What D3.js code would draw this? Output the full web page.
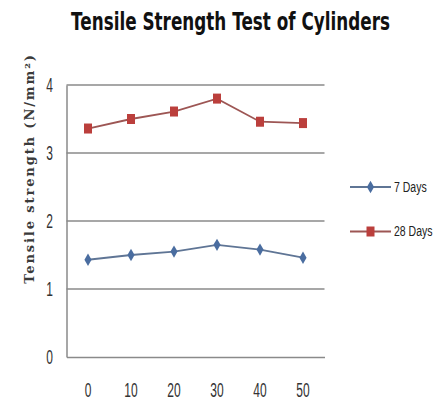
<!DOCTYPE html>
<html>
<head>
<meta charset="utf-8">
<script src="https://cdn.jsdelivr.net/npm/d3@7"></script>
<style>
  html, body { margin: 0; padding: 0; background: #fff; }
  svg { display: block; }
</style>
</head>
<body>
<svg id="chart" width="440" height="405"></svg>
<script>
// Replacement levels (%) and cylinder tensile strengths (N/mm²)
const categories = ["0", "10", "20", "30", "40", "50"];
const days7 = [1.43, 1.50, 1.55, 1.65, 1.58, 1.46];
const days28 = [3.36, 3.50, 3.61, 3.80, 3.46, 3.44];
const yTicks = [0, 1, 2, 3, 4];
const seriesNames = ["7 Days", "28 Days"];

const svg = d3.select("#chart");
const margin = { left: 66.5, right: 115.5, top: 85, bottom: 48 };
const W = 440, H = 405;

const x = d3.scaleBand()
  .domain(categories)
  .range([margin.left, W - margin.right]);

const y = d3.scaleLinear()
  .domain([0, 4])
  .range([H - margin.bottom, margin.top]);

const sans = "'Liberation Sans', Arial, sans-serif";
const squeeze = 0.6;   // horizontal compression of the narrow label face

// Title, condensed to a fixed width around its centre
const title = svg.append("text")
  .attr("x", 0)
  .attr("y", 0)
  .attr("text-anchor", "middle")
  .attr("font-family", "'DejaVu Sans', sans-serif")
  .attr("font-weight", "bold")
  .attr("font-size", 24)
  .attr("fill", "#111")
  .text("Tensile Strength Test of Cylinders");
const titleScale = 319 / title.node().getComputedTextLength();
title.attr("transform", `translate(230.5,30) scale(${titleScale},1)`);

// Horizontal gridlines
svg.append("g")
  .selectAll("line")
  .data(yTicks.filter(d => d > 0))
  .join("line")
  .attr("x1", x.range()[0])
  .attr("x2", x.range()[1])
  .attr("y1", d => y(d))
  .attr("y2", d => y(d))
  .attr("stroke", "#8a8a8a")
  .attr("stroke-width", 1.5);

// Y axis
const yAxis = svg.append("g")
  .attr("transform", `translate(${margin.left},0)`)
  .call(d3.axisLeft(y).tickValues(yTicks).tickSize(0).tickFormat(d3.format("d")));
yAxis.select(".domain").attr("stroke", "#8a8a8a").attr("stroke-width", 1.5);
yAxis.selectAll("text")
  .attr("font-family", sans)
  .attr("font-size", 20)
  .attr("fill", "#333")
  .attr("text-anchor", "end")
  .attr("dy", null)
  .attr("y", 6)
  .attr("x", -13.5 / squeeze)
  .attr("transform", `scale(${squeeze},1)`);

// X axis
const xAxis = svg.append("g")
  .attr("transform", `translate(0,${y(0)})`)
  .call(d3.axisBottom(x).tickSize(0));
xAxis.select(".domain").attr("stroke", "#8a8a8a").attr("stroke-width", 1.5);
xAxis.selectAll("text")
  .attr("font-family", sans)
  .attr("font-size", 20)
  .attr("fill", "#333")
  .attr("dy", null)
  .attr("y", 40.5)
  .attr("transform", `scale(${squeeze},1)`);

// Y axis title
svg.append("text")
  .attr("transform", "translate(34,168.5) rotate(-90)")
  .attr("text-anchor", "middle")
  .attr("font-family", "'DejaVu Serif', serif")
  .attr("font-weight", "bold")
  .attr("font-size", 13)
  .attr("letter-spacing", 1.9)
  .attr("fill", "#3a3a3a")
  .text("Tensile strength (N/mm²)");

// Marker shapes: tall diamond for 7 days, upright rectangle for 28 days
const tallRect = {
  draw(ctx, size) {
    const w = Math.sqrt(size * 0.8), h = size / w;
    ctx.rect(-w / 2, -h / 2, w, h);
    ctx.closePath();
  }
};

const cx = d => x(d) + x.bandwidth() / 2;
const line = d3.line().x(d => cx(d.c)).y(d => y(d.v));

const series = [
  { name: seriesNames[0], values: days7, color: "#4a6da0", line: "#5f7595", shape: d3.symbolDiamond, size: 44 },
  { name: seriesNames[1], values: days28, color: "#bb3f3c", line: "#9d5654", shape: tallRect, size: 80 }
];

series.forEach(s => {
  const pts = categories.map((c, i) => ({ c, v: s.values[i] }));
  svg.append("path")
    .datum(pts)
    .attr("d", line)
    .attr("fill", "none")
    .attr("stroke", s.line)
    .attr("stroke-width", 1.8);
  svg.append("g")
    .selectAll("path")
    .data(pts)
    .join("path")
    .attr("transform", d => `translate(${cx(d.c)},${y(d.v)})`)
    .attr("d", d3.symbol().type(s.shape).size(s.size))
    .attr("fill", s.color);
});

// Legend
const legend = svg.append("g");
series.forEach((s, i) => {
  const ly = 187 + i * 44.5;
  legend.append("line")
    .attr("x1", 350).attr("x2", 391)
    .attr("y1", ly).attr("y2", ly)
    .attr("stroke", s.line)
    .attr("stroke-width", 1.8);
  legend.append("path")
    .attr("transform", `translate(370.5,${ly})`)
    .attr("d", d3.symbol().type(s.shape).size(s.size))
    .attr("fill", s.color);
  legend.append("text")
    .attr("x", 394 / 0.75)
    .attr("y", ly + 5)
    .attr("transform", "scale(0.75,1)")
    .attr("font-family", sans)
    .attr("font-size", 14)
    .attr("fill", "#222")
    .text(s.name);
});
</script>
</body>
</html>
